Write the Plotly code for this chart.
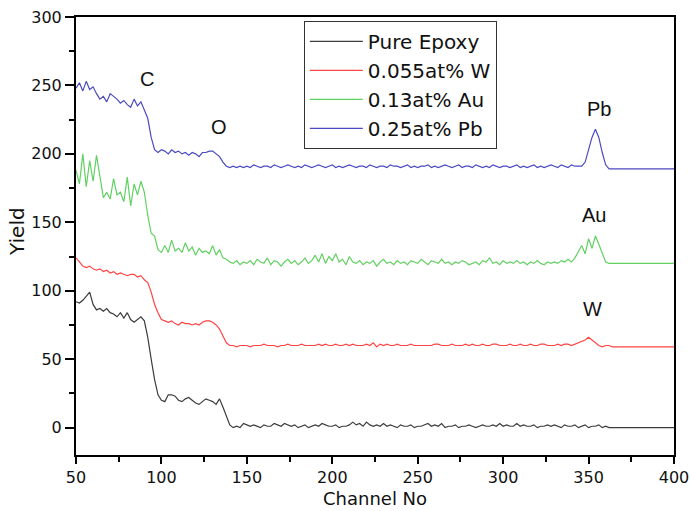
import plotly.graph_objects as go

# Channel grid (every 2nd channel up to 366, then the flat tail to 400)
channel = list(range(50, 367, 2)) + [400]

pure_epoxy = [
    92, 91, 93, 96, 99, 90, 86, 87, 85, 87,
    84, 83, 81, 84, 80, 84, 79, 77, 79, 81,
    78, 66, 50, 35, 24, 20, 19, 24, 24, 23,
    20, 19, 21, 22, 20, 18, 17, 19, 21, 20,
    19, 17, 21, 15, 8, 2, 0, 1, 0, 3,
    2, 1, 2, 1, 0, 2, 1, 1, 3, 2,
    1, 3, 2, 1, 2, 0, 1, 2, 0, 1,
    2, 1, 3, 2, 1, 1, 2, 0, 1, 1,
    2, 4, 2, 3, 1, 4, 2, 1, 2, 1,
    3, 1, 2, 1, 0, 2, 1, 1, 2, 0,
    1, 1, 2, 3, 1, 2, 1, 3, 0, 1,
    1, 2, 0, 1, 1, 2, 1, 0, 1, 2,
    1, 1, 2, 1, 3, 1, 2, 1, 1, 3,
    1, 2, 1, 1, 2, 0, 1, 1, 2, 1,
    2, 1, 0, 2, 1, 1, 2, 0, 1, 2,
    0, 1, 1, 2, 0, 1, 0, 0, 0,
    0,
]

w_0055 = [
    124, 121, 118, 117, 118, 116, 115, 116, 114, 115,
    113, 114, 112, 113, 112, 111, 112, 112, 110, 111,
    108, 106, 99, 90, 84, 79, 78, 77, 78, 76,
    75, 77, 76, 76, 75, 76, 75, 77, 78, 78,
    77, 75, 72, 67, 62, 60, 60, 59, 60, 60,
    60, 59, 60, 60, 60, 61, 60, 60, 60, 59,
    60, 60, 61, 60, 60, 60, 61, 60, 60, 60,
    60, 61, 60, 61, 60, 60, 61, 60, 60, 61,
    60, 61, 60, 60, 60, 61, 60, 62, 59, 61,
    60, 61, 60, 60, 61, 60, 60, 60, 61, 60,
    60, 60, 60, 60, 60, 61, 61, 60, 60, 60,
    61, 60, 60, 60, 61, 60, 61, 60, 60, 61,
    60, 60, 61, 61, 60, 60, 60, 61, 60, 60,
    61, 60, 60, 61, 60, 60, 61, 61, 60, 60,
    60, 61, 60, 61, 61, 60, 61, 62, 63, 64,
    66, 64, 62, 60, 59, 60, 60, 59, 59,
    59,
]

au_013 = [
    188, 178, 200, 176, 195, 180, 199, 185, 168, 172,
    167, 182, 170, 172, 165, 183, 162, 178, 170, 180,
    172, 155, 142, 140, 130, 128, 133, 128, 137, 129,
    131, 128, 135, 129, 132, 126, 131, 128, 129, 127,
    133, 126, 130, 124, 123, 121, 120, 122, 119, 121,
    120, 122, 119, 123, 121, 120, 124, 119, 122, 121,
    118, 121, 123, 120, 122, 119, 121, 124, 120, 122,
    126, 121, 127, 120, 125, 122, 127, 121, 123, 119,
    125, 121, 120, 122, 119, 121, 120, 122, 118, 121,
    123, 120, 121, 119, 122, 120, 121, 119, 122, 121,
    120, 123, 121, 119, 122, 121, 120, 123, 120, 121,
    119, 121, 120, 122, 121, 119, 120, 121, 119, 122,
    121, 124, 120, 121, 119, 122, 120, 121, 120, 122,
    120, 121, 119, 121, 120, 122, 120, 119, 121, 120,
    121, 120, 122, 121, 123, 121, 124, 129, 133, 127,
    138, 131, 140, 134, 127, 121, 120, 120, 120,
    120,
]

pb_025 = [
    248, 252, 246, 253, 247, 249, 244, 240, 242, 238,
    244, 242, 240, 237, 239, 236, 234, 240, 235, 238,
    232, 226, 212, 203, 201, 203, 202, 200, 203, 201,
    202, 200, 201, 199, 201, 200, 198, 201, 201, 202,
    202, 200, 198, 194, 191, 190, 191, 190, 191, 190,
    191, 190, 192, 191, 190, 191, 191, 190, 192, 191,
    190, 191, 192, 191, 190, 191, 190, 192, 191, 190,
    191, 192, 191, 190, 191, 192, 190, 191, 190, 191,
    192, 191, 190, 191, 191, 190, 192, 191, 190, 191,
    191, 190, 192, 191, 191, 190, 191, 192, 190, 191,
    190, 191, 191, 192, 190, 191, 190, 191, 192, 191,
    190, 191, 192, 190, 191, 191, 190, 192, 191, 190,
    191, 190, 192, 191, 190, 191, 191, 190, 191, 192,
    190, 191, 190, 191, 192, 190, 191, 190, 191, 192,
    191, 190, 192, 191, 190, 192, 191, 191, 191, 194,
    203, 212, 218, 212, 201, 192, 189, 189, 189,
    189,
]

series_names = ["Pure Epoxy", "0.055at% W", "0.13at% Au", "0.25at% Pb"]
series_values = [pure_epoxy, w_0055, au_013, pb_025]
series_colors = ["#3c3c3c", "#ff4444", "#62d062", "#4a4ac2"]

# Element labels placed beside their features
element_labels = ["C", "O", "Pb", "Au", "W"]
element_x = [91.5, 133.5, 356, 353, 352.5]
element_y = [255, 220, 233, 155, 87]

x_ticks = [50, 100, 150, 200, 250, 300, 350, 400]
y_ticks = [0, 50, 100, 150, 200, 250, 300]

FONT = "DejaVu Sans, Arial, sans-serif"
LABEL_FONT = "Liberation Sans, Arial, sans-serif"

fig = go.Figure()
for name, vals, col in zip(series_names, series_values, series_colors):
    fig.add_trace(go.Scatter(
        x=channel, y=vals, mode="lines", name=name,
        line=dict(color=col, width=1.2),
    ))

for lab, lx, ly in zip(element_labels, element_x, element_y):
    fig.add_annotation(x=lx, y=ly, text=lab, showarrow=False,
                       font=dict(family=LABEL_FONT, size=20, color="#111"))

# Axis titles, placed in paper coordinates below / left of the frame
fig.add_annotation(text="Channel No", xref="paper", yref="paper",
                   x=0.5, y=-0.127, xanchor="center", yanchor="bottom",
                   showarrow=False,
                   font=dict(family=FONT, size=18, color="#111"))
fig.add_annotation(text="Yield", xref="paper", yref="paper",
                   x=-0.099, y=0.511, xanchor="center", yanchor="middle",
                   textangle=-90, showarrow=False,
                   font=dict(family=FONT, size=20, color="#111"))

axis_common = dict(
    showgrid=False, zeroline=False, showline=True, mirror=True,
    linecolor="#000", linewidth=2, ticks="outside",
    tickwidth=2, tickcolor="#000", automargin=False,
    ticklabeloverflow="allow",
    tickfont=dict(family=FONT, size=16, color="#111"),
)

fig.update_xaxes(
    range=[50, 400], tickvals=x_ticks, ticktext=[str(v) for v in x_ticks],
    ticklen=7,
    minor=dict(tickvals=[75, 125, 175, 225, 275, 325, 375], ticks="outside",
               ticklen=5, tickwidth=1.6, tickcolor="#000"),
    **axis_common,
)
fig.update_yaxes(
    range=[-20, 300], tickvals=y_ticks, ticktext=[str(v) for v in y_ticks],
    ticklen=9,
    minor=dict(tickvals=[25, 75, 125, 175, 225, 275], ticks="outside",
               ticklen=5, tickwidth=1.6, tickcolor="#000"),
    **axis_common,
)

fig.update_layout(
    width=690, height=511,
    margin=dict(l=76, r=16, t=17, b=56),
    paper_bgcolor="white", plot_bgcolor="white",
    showlegend=True,
    legend=dict(
        x=0.381, y=0.991, xanchor="left", yanchor="top",
        bordercolor="#333", borderwidth=1, bgcolor="white",
        font=dict(family=FONT, size=20, color="#111"),
        tracegroupgap=0, itemwidth=53,
    ),
)

fig.write_html("out.html")
